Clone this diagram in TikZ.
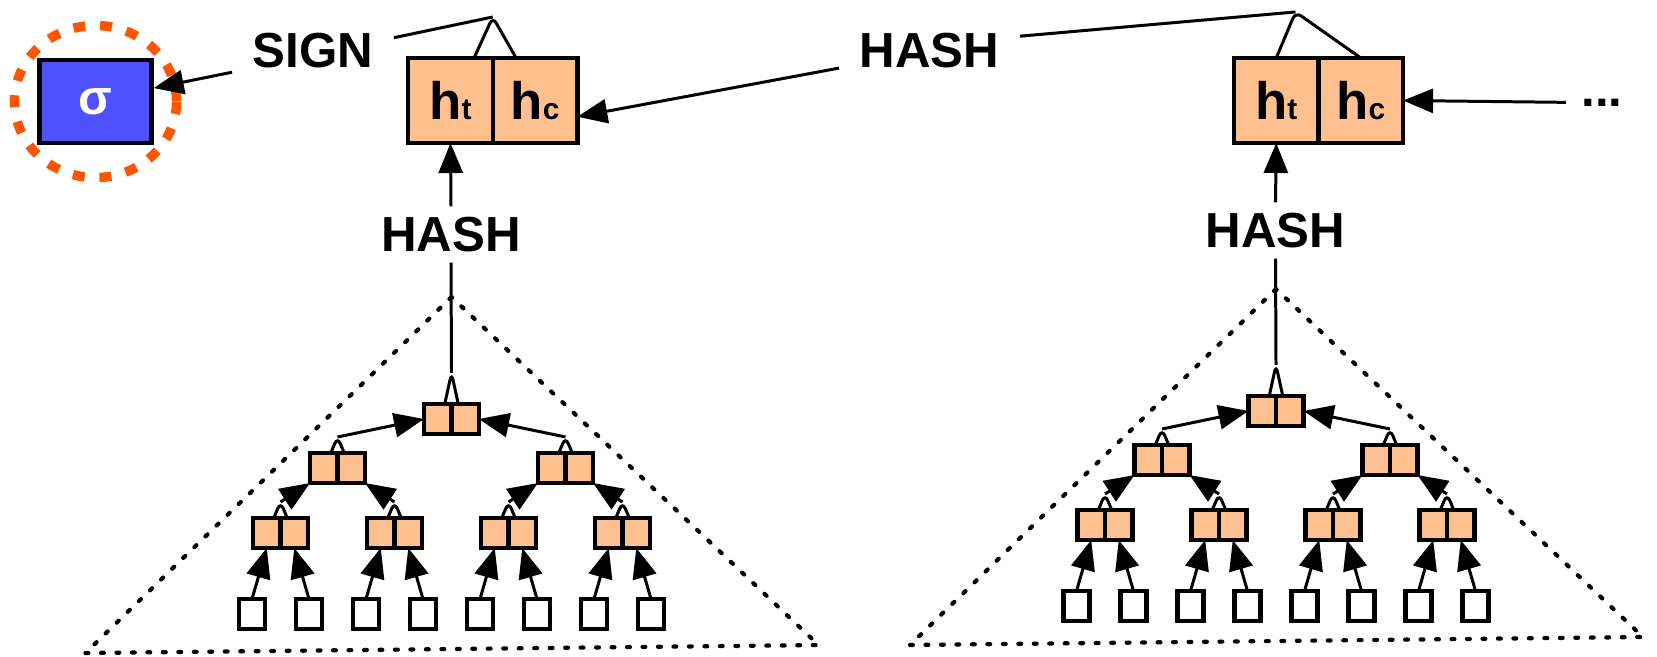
\documentclass[tikz,border=0pt]{standalone}
\usepackage{fontspec}
\setmainfont{Liberation Sans}
\usetikzlibrary{arrows.meta,positioning}
\definecolor{peach}{RGB}{255,192,144}
\definecolor{sigblue}{RGB}{80,80,255}
\definecolor{ringred}{RGB}{255,85,0}
\newcommand{\hsub}[1]{h{\fontsize{8.5}{10}\selectfont #1}}

\begin{document}
\begin{tikzpicture}[x=0.01cm,y=-0.01cm]
  \tikzset{ lbl/.style={font=\fontsize{14}{17}\selectfont\bfseries,inner xsep=0.2cm,inner ysep=0.1cm},
    big/.style={draw,line width=1.25pt,fill=peach,minimum width=0.845cm,minimum height=0.85cm,
      inner sep=0pt,outer sep=0pt,font=\fontsize{15}{17}\selectfont\bfseries},
    half/.style={draw,line width=1.3pt,fill=peach,minimum width=0.275cm,minimum height=0.3cm,inner sep=0pt,outer sep=0pt},
    leaf/.style={draw,line width=1.3pt,fill=white,minimum width=0.26cm,minimum height=0.3cm,inner sep=0pt,outer sep=0pt},
    arr/.style={line width=0.85pt,-{Triangle[length=0.3cm,width=0.24cm]}},
    link/.style={line width=0.85pt,rounded corners=2pt},
    dots/.style={line width=1.2pt,dash pattern=on 0.8pt off 3.6pt,line cap=round},
  }
  \useasboundingbox (0,0) rectangle (1657,656);

  % signature
  \node[draw,line width=1.25pt,fill=sigblue,text=white,minimum width=1.12cm,minimum height=0.83cm,
    font=\fontsize{14}{17}\selectfont\bfseries] (sig) at (95.5,101.5) {σ};
  \draw[ringred,line width=2.7pt,dash pattern=on 3.4pt off 4.2pt] (sig.center) ellipse [x radius=0.81cm,y radius=0.76cm];

  \node[lbl] (sign) at (313,50.5) {SIGN};
  \node[lbl] (hashm) at (929.5,50.5) {HASH};
  \node[lbl,inner xsep=0.15cm,anchor=base] (more) at (1602,106) {...};

  % top hash pairs
  \node[big] (b1a) at (450.5,100.5) {\hsub{t}};
  \node[big,right=0pt of b1a] (b1b) {\hsub{c}};
  \node[big] (b2a) at (1276.25,100.5) {\hsub{t}};
  \node[big,right=0pt of b2a] (b2b) {\hsub{c}};
  \node[lbl] (hash1) at (451,234.5) {HASH};
  \node[lbl] (hash2) at (1275.5,230.5) {HASH};
  \coordinate (b1p) at ([yshift=0.41cm]b1a.north east);
  \coordinate (b2p) at ([shift={(-0.23cm,0.46cm)}]b2a.north east);

  \draw[arr] (sign.195) -- (sig.13);
  \draw[link] (sign.9) -- (b1p);
  \draw[link] (b1a.61) -- (b1p) -- (b1b.114);
  \draw[arr] (hashm.191) -- (b1b.-21);
  \draw[link] (hashm.9) -- (b2p);
  \draw[link] (b2a.north) -- (b2p) -- (b2b.north);
  \draw[arr] (more.west) -- (b2b.east);
  \draw[arr] (hash1.north) -- (b1a.south);
  \draw[arr] (hash2.north) -- (b2a.south);

  % the two hash trees
  \foreach \tr/\dx/\dy/\hs in {L/451.5/419/hash1, R/1276/411/hash2} {
    \begin{scope}[shift={(\dx,\dy)}]
      \draw[dots] (0,-122) -- (-366,234) -- (367,226) -- cycle;
      \foreach \n/\x/\y in {1/0/0, 2/-114/49, 3/114/49, 4/-171/114, 5/-57/114, 6/57/114, 7/171/114} {
        \node[half] (\tr\n a) at (\x-13.75,\y) {};
        \node[half,right=0pt of \tr\n a] (\tr\n b) {};
      }
      \foreach \n/\x in {8/-199.5, 9/-142.5, 10/-85.5, 11/-28.5, 12/28.5, 13/85.5, 14/142.5, 15/199.5}
        \node[leaf] (\tr\n) at (\x,195) {};
      \foreach \n/\h in {1/0.31cm, 2/0.16cm, 3/0.16cm, 4/0.16cm, 5/0.16cm, 6/0.16cm, 7/0.16cm} {
        \coordinate (\tr\n p) at ([yshift=\h]\tr\n a.north east);
        \draw[link] (\tr\n a.65) -- (\tr\n p) -- (\tr\n b.115);
      }
      \foreach \n/\p/\s in {8/4/a, 9/4/b, 10/5/a, 11/5/b, 12/6/a, 13/6/b, 14/7/a, 15/7/b}
        \draw[arr] (\tr\n.north) -- (\tr\p\s.south);
      \foreach \n/\p/\s/\an in {4/2/a/south west, 5/2/b/south east, 6/3/a/south west, 7/3/b/south east}
        \draw[arr] (\tr\n p) -- (\tr\p\s.\an);
      \draw[arr] (\tr2p) -- (\tr1a.west);
      \draw[arr] (\tr3p) -- (\tr1b.east);
      \draw[link] (\hs.south) -- (\tr1p);
    \end{scope}
  }
\end{tikzpicture}
\end{document}
